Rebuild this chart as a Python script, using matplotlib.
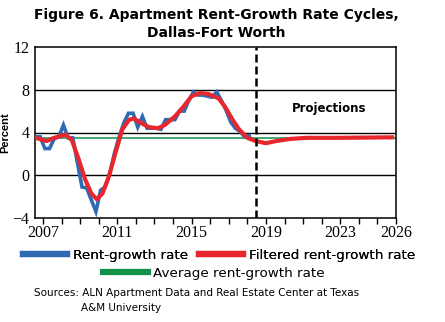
import numpy as np
import matplotlib
matplotlib.use("Agg")
import matplotlib.pyplot as plt
from matplotlib.lines import Line2D

# quarterly rent-growth rate, Dallas-Fort Worth (percent)
rent_start = 2006.6
rent_growth = [3.6, 3.6, 2.5, 2.5, 3.4, 3.6, 4.7, 3.5, 3.5, 1.2,
               -1.1, -1.2, -2.3, -3.4, -1.4, -1.1, 0.2, 2.1, 3.6, 4.9,
               5.8, 5.8, 4.5, 5.5, 4.4, 4.4, 4.4, 4.3, 5.2, 5.2,
               5.2, 6.0, 6.0, 7.0, 7.8, 7.5, 7.5, 7.4, 7.3, 7.8,
               7.0, 6.1, 5.0, 4.4, 4.1, 3.6, 3.7]

# filtered (smoothed) series incl. projections
filt_years = [2006.6, 2007.2, 2007.6, 2008.2, 2008.55, 2008.9, 2009.27, 2009.6,
              2009.9, 2010.2, 2010.55, 2010.9, 2011.27, 2011.64, 2011.9, 2012.27,
              2012.7, 2013.2, 2013.55, 2014.1, 2014.55, 2015.0, 2015.45, 2015.9,
              2016.45, 2016.8, 2017.2, 2017.55, 2018.0, 2018.45, 2019.0, 2019.55,
              2020.3, 2021.2, 2022.8, 2025.9]
filt_vals = [3.5, 3.2, 3.5, 3.8, 3.3, 1.6, -0.4, -1.7,
             -2.25, -1.7, -0.1, 2.1, 4.3, 5.2, 5.3, 4.9,
             4.5, 4.4, 4.7, 5.5, 6.4, 7.4, 7.7, 7.6,
             7.2, 6.4, 5.2, 4.3, 3.5, 3.2, 3.0, 3.2,
             3.4, 3.5, 3.5, 3.55]

avg_rate = 3.45
proj_start = 2018.45
year_labels = [2007, 2011, 2015, 2019, 2023, 2026]

BLUE = "#2f6bb5"
RED = "#e8262d"
GREEN = "#11904a"

fig = plt.figure(figsize=(4.45, 3.22), dpi=100)
ax = fig.add_axes([35/445, 1-218/322, (396-35)/445, (218-47)/322])

rent_x = rent_start + 0.25 * np.arange(len(rent_growth))

for y in [0, 4, 8]:
    ax.axhline(y, color="black", lw=1.0, zorder=1)
ax.axhline(avg_rate, color=GREEN, lw=1.1, zorder=2)
ax.plot(rent_x, rent_growth, color=BLUE, lw=2.6, zorder=3, solid_joinstyle="miter")
ax.plot(filt_years, filt_vals, color=RED, lw=3.0, zorder=4, solid_capstyle="butt")
ax.axvline(proj_start, color="black", lw=1.8, ls=(0, (3.2, 1.6)), zorder=5)
ax.text(2022.4, 6.2, "Projections", fontsize=8.5, fontweight="bold",
        ha="center", va="center")

ax.set_xlim(2006.57, 2026)
ax.set_ylim(-4, 12)
ax.set_yticks([-4, 0, 4, 8, 12])
ax.set_yticklabels(["\u22124", "0", "4", "8", "12"], family="Liberation Serif")
ax.set_xticks(np.arange(2007, 2027))
ax.set_xticklabels([str(y) if y in year_labels else "" for y in range(2007, 2027)],
                   family="Liberation Serif")
ax.tick_params(axis="x", direction="out", length=4, width=1, labelsize=11.5, pad=1)
ax.tick_params(axis="y", length=0, labelsize=11.5, pad=4)
for s in ax.spines.values():
    s.set_linewidth(1.1)
ax.set_ylabel("Percent", fontsize=8, fontweight="bold", family="Liberation Sans")
ax.yaxis.set_label_coords(-0.068, 0.5)

fig.text(0.487, 1-15/322, "Figure 6. Apartment Rent-Growth Rate Cycles,",
         ha="center", va="center", fontsize=10, fontweight="bold")
fig.text(0.487, 1-33/322, "Dallas-Fort Worth",
         ha="center", va="center", fontsize=10, fontweight="bold")

h1 = [Line2D([], [], color=BLUE, lw=4.5), Line2D([], [], color=RED, lw=4.5)]
leg1 = fig.legend(h1, ["Rent-growth rate", "Filtered rent-growth rate"], ncol=2,
                  loc="center", bbox_to_anchor=(0.492, 1-255/322), frameon=False,
                  fontsize=9.7, handlelength=3.3, columnspacing=0.8, handletextpad=0.4,
                  borderpad=0, borderaxespad=0)
fig.add_artist(leg1)
h2 = [Line2D([], [], color=GREEN, lw=4.5)]
fig.legend(h2, ["Average rent-growth rate"], loc="center",
           bbox_to_anchor=(0.481, 1-273/322), frameon=False, fontsize=9.7,
           handlelength=3.3, handletextpad=0.4, borderpad=0, borderaxespad=0)

fig.text(34/445, 1-293/322, "Sources: ALN Apartment Data and Real Estate Center at Texas",
         fontsize=7.5, va="center", ha="left")
fig.text(81/445, 1-308/322, "A&M University", fontsize=7.5, va="center", ha="left")

fig.savefig("out.png", dpi=100)
